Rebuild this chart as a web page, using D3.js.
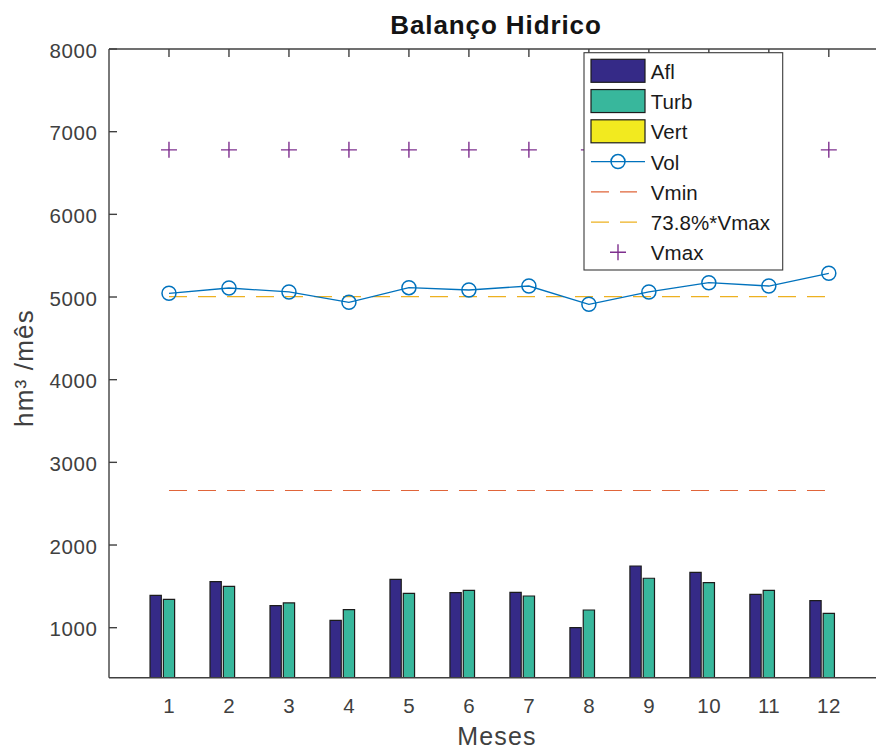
<!DOCTYPE html>
<html>
<head>
<meta charset="utf-8">
<script src="https://cdn.jsdelivr.net/npm/d3@7"></script>
<style>
  html, body { margin: 0; padding: 0; background: #fff; }
  svg { display: block; }
  text { font-family: "Liberation Sans", Arial, Helvetica, sans-serif; }
</style>
</head>
<body>
<svg id="chart" width="876" height="751"></svg>
<script>
// ---- Data ----
const months = [1, 2, 3, 4, 5, 6, 7, 8, 9, 10, 11, 12];
const afl  = [1392, 1556, 1266, 1089, 1585, 1423, 1428, 1000, 1746, 1668, 1404, 1327];
const turb = [1343, 1500, 1299, 1218, 1416, 1452, 1383, 1214, 1598, 1545, 1452, 1174];
const vert = [0, 0, 0, 0, 0, 0, 0, 0, 0, 0, 0, 0];
const vol  = [5045, 5109, 5061, 4936, 5113, 5085, 5133, 4912, 5061, 5173, 5133, 5287];
const vmin = 2660;
const vmax = 6780;
const vPct = 5004; // 73.8% * Vmax
const yTicks = [1000, 2000, 3000, 4000, 5000, 6000, 7000, 8000];
const xTicks = months;
const seriesNames = ["Afl", "Turb", "Vert", "Vol", "Vmin", "73.8%*Vmax", "Vmax"];

// ---- Layout ----
const svg = d3.select("#chart");
const L = 109, R = 881, T = 49, B = 677.7;
const x = d3.scaleLinear().domain([0, 12.87]).range([L, R]);
const y = d3.scaleLinear().domain([395, 8000]).range([B, T]);
const axisColor = "#404040";
const colors = {
  Afl: "#352a87", Turb: "#38b79c", Vert: "#f2ea1f",
  Vol: "#0072bd", Vmin: "#e0653a", Pct: "#edb120", Vmax: "#7e2f8e"
};
const tickFont = 20.5, tickSpacing = 0.6;

svg.append("defs").append("clipPath").attr("id", "clip")
  .append("rect").attr("x", L).attr("y", T).attr("width", R - L).attr("height", B - T);

// ---- Axes (ticks beneath marks) ----
const ax = svg.append("g");
const tickLen = 8;
xTicks.forEach(t => {
  ax.append("line").attr("x1", x(t)).attr("x2", x(t)).attr("y1", B).attr("y2", B - tickLen)
    .attr("stroke", axisColor).attr("stroke-width", 1.4);
  ax.append("line").attr("x1", x(t)).attr("x2", x(t)).attr("y1", T).attr("y2", T + tickLen)
    .attr("stroke", axisColor).attr("stroke-width", 1.4);
  ax.append("text").attr("x", x(t) + tickSpacing / 2).attr("y", 712.7)
    .attr("text-anchor", "middle").attr("font-size", tickFont).attr("letter-spacing", tickSpacing)
    .attr("fill", axisColor).text(t);
});
yTicks.forEach(t => {
  ax.append("line").attr("x1", L).attr("x2", L + tickLen).attr("y1", y(t)).attr("y2", y(t))
    .attr("stroke", axisColor).attr("stroke-width", 1.4);
  ax.append("text").attr("x", 97.5).attr("y", y(t) + 8.5)
    .attr("text-anchor", "end").attr("font-size", tickFont).attr("letter-spacing", tickSpacing)
    .attr("fill", axisColor).text(t);
});

const plot = svg.append("g").attr("clip-path", "url(#clip)");

// ---- Bars ----
const barW = 0.188;
const offsets = [-0.222, 0, 0.222];
const barSeries = [[afl, colors.Afl], [turb, colors.Turb], [vert, colors.Vert]];
barSeries.forEach(([vals, col], si) => {
  plot.selectAll(null).data(months).enter().append("path")
    .attr("d", (m, i) => {
      const x0 = x(m + offsets[si] - barW / 2), x1 = x(m + offsets[si] + barW / 2);
      const yt = y(Math.max(vals[i], 395)), yb = y(395);
      return `M${x0},${yb}V${yt}H${x1}V${yb}`;
    })
    .attr("fill", col)
    .attr("stroke", "#1c1c1c")
    .attr("stroke-width", 1.2);
});

// ---- Reference lines ----
const dash = "18,11";
plot.append("line")
  .attr("x1", x(1)).attr("x2", x(12)).attr("y1", y(vmin)).attr("y2", y(vmin))
  .attr("stroke", colors.Vmin).attr("stroke-width", 1.1).attr("stroke-dasharray", dash);
plot.append("line")
  .attr("x1", x(1)).attr("x2", x(12)).attr("y1", y(vPct)).attr("y2", y(vPct))
  .attr("stroke", colors.Pct).attr("stroke-width", 1.3).attr("stroke-dasharray", dash);

// ---- Vol line ----
const line = d3.line().x((d, i) => x(months[i])).y(d => y(d));
plot.append("path").datum(vol).attr("d", line)
  .attr("fill", "none").attr("stroke", colors.Vol).attr("stroke-width", 1.3);
plot.selectAll(null).data(vol).enter().append("circle")
  .attr("cx", (d, i) => x(months[i])).attr("cy", d => y(d)).attr("r", 7)
  .attr("fill", "none").attr("stroke", colors.Vol).attr("stroke-width", 1.5);

// ---- Vmax markers ----
const plusSize = 8;
plot.selectAll(null).data(months).enter().append("path")
  .attr("d", m => {
    const cx = x(m), cy = y(vmax);
    return `M${cx - plusSize},${cy}H${cx + plusSize}M${cx},${cy - plusSize}V${cy + plusSize}`;
  })
  .attr("stroke", colors.Vmax).attr("stroke-width", 1.4).attr("fill", "none");

// ---- Axis lines ----
ax.append("line").attr("x1", L).attr("x2", L).attr("y1", T).attr("y2", B)
  .attr("stroke", axisColor).attr("stroke-width", 1.4);
svg.append("line").attr("x1", L).attr("x2", 876).attr("y1", B).attr("y2", B)
  .attr("stroke", axisColor).attr("stroke-width", 1.4);
svg.append("line").attr("x1", L).attr("x2", 876).attr("y1", T).attr("y2", T)
  .attr("stroke", axisColor).attr("stroke-width", 1.4);

// ---- Titles ----
svg.append("text").attr("x", 496).attr("y", 34).attr("text-anchor", "middle")
  .attr("font-size", 26).attr("font-weight", "bold").attr("letter-spacing", 0.9)
  .attr("fill", "#141414").text("Balanço Hidrico");
svg.append("text").attr("x", 497).attr("y", 745).attr("text-anchor", "middle")
  .attr("font-size", 25).attr("letter-spacing", 1.2)
  .attr("fill", axisColor).text("Meses");
svg.append("text").attr("transform", "translate(33,368) rotate(-90)").attr("text-anchor", "middle")
  .attr("font-size", 26).attr("letter-spacing", 1.2)
  .attr("fill", axisColor).text("hm³ /mês");

// ---- Legend ----
const lg = svg.append("g");
lg.append("rect").attr("x", 584).attr("y", 52.7).attr("width", 198.7).attr("height", 217.3)
  .attr("fill", "#fff").attr("stroke", "#3a3a3a").attr("stroke-width", 1.1);
const rowY = i => 70.8 + i * 30.25;
const sx0 = 591, sx1 = 645, scx = 618;
seriesNames.forEach((name, i) => {
  const cy = rowY(i);
  if (i < 3) {
    lg.append("rect").attr("x", sx0).attr("y", cy - 11.5).attr("width", sx1 - sx0).attr("height", 23)
      .attr("fill", barSeries[i][1]).attr("stroke", "#1c1c1c").attr("stroke-width", 1.2);
  } else if (name === "Vol") {
    lg.append("line").attr("x1", sx0).attr("x2", sx1).attr("y1", cy).attr("y2", cy)
      .attr("stroke", colors.Vol).attr("stroke-width", 1.3);
    lg.append("circle").attr("cx", scx).attr("cy", cy).attr("r", 7)
      .attr("fill", "none").attr("stroke", colors.Vol).attr("stroke-width", 1.5);
  } else if (name === "Vmin" || name === "73.8%*Vmax") {
    lg.append("line").attr("x1", sx0).attr("x2", sx1 - 8).attr("y1", cy).attr("y2", cy)
      .attr("stroke", name === "Vmin" ? colors.Vmin : colors.Pct).attr("stroke-width", 1.2)
      .attr("stroke-dasharray", dash);
  } else {
    lg.append("path")
      .attr("d", `M${scx - plusSize},${cy}H${scx + plusSize}M${scx},${cy - plusSize}V${cy + plusSize}`)
      .attr("stroke", colors.Vmax).attr("stroke-width", 1.4);
  }
  lg.append("text").attr("x", 650.7).attr("y", cy + 8)
    .attr("font-size", 20.5).attr("letter-spacing", 0.1).attr("fill", "#1a1a1a").text(name);
});
</script>
</body>
</html>
